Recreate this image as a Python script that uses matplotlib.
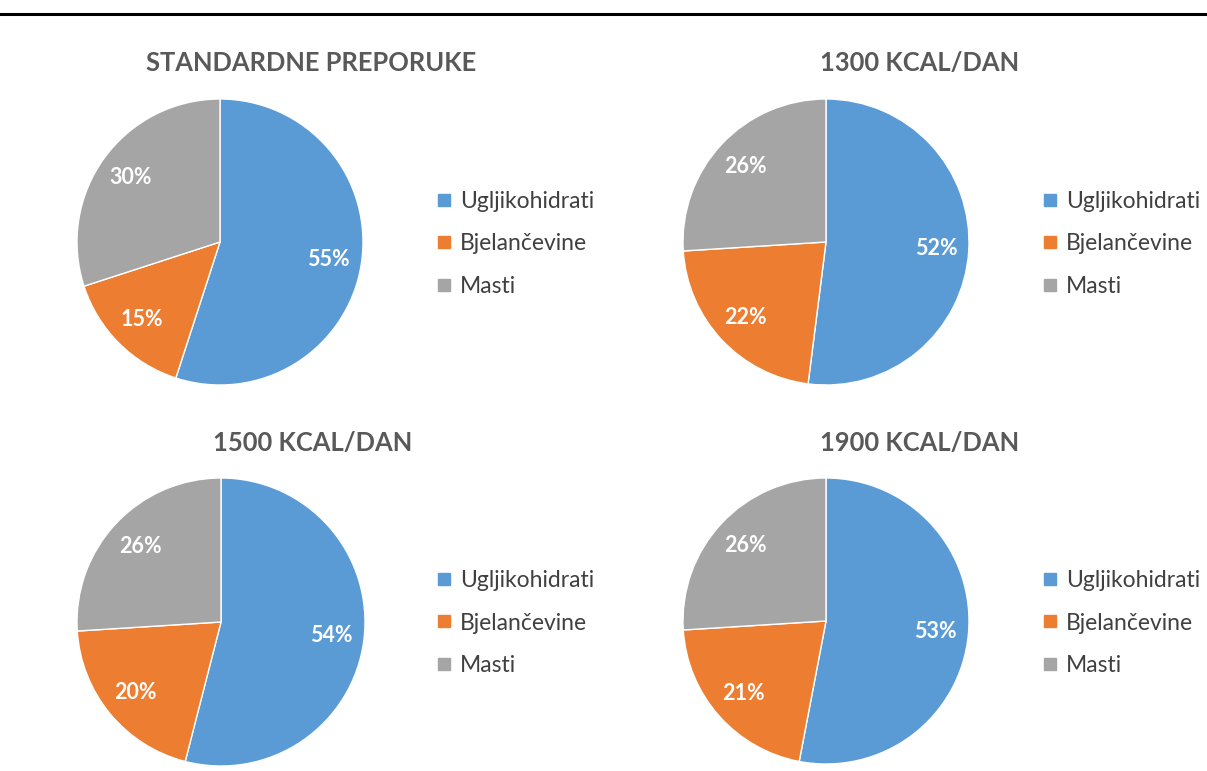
import matplotlib
matplotlib.use("Agg")
import matplotlib.pyplot as plt
from matplotlib.lines import Line2D

categories = ["Ugljikohidrati", "Bjelančevine", "Masti"]
titles = ["STANDARDNE PREPORUKE", "1300 KCAL/DAN", "1500 KCAL/DAN", "1900 KCAL/DAN"]
vals_standard = [55, 15, 30]
vals_1300 = [52, 22, 26]
vals_1500 = [54, 20, 26]
vals_1900 = [53, 21, 26]
all_vals = [vals_standard, vals_1300, vals_1500, vals_1900]
colors = ["#5B9BD5", "#ED7D31", "#A5A5A5"]

W, H = 1207, 771
plt.rcParams['font.family'] = ['Lato', 'DejaVu Sans']
fig = plt.figure(figsize=(W / 100, H / 100), dpi=100)
fig.patch.set_facecolor("white")

# top rule
fig.add_artist(Line2D([0, 1], [1 - 14 / H, 1 - 14 / H], color="black", lw=2.2, transform=fig.transFigure))

# pixel layout: (pie center x, center y, radius, title x, title y, legend x, legend y)
layout = [
    (220, 242, 143, 311, 63, 436, 244),
    (826, 242, 143, 920, 63, 1042, 244),
    (221, 622, 144, 313, 443, 436, 623),
    (826, 621, 143, 920, 443, 1042, 623),
]

for vals, title, (cx, cy, r, tx, ty, lx, ly) in zip(all_vals, titles, layout):
    ax = fig.add_axes([(cx - r) / W, (H - cy - r) / H, 2 * r / W, 2 * r / H])
    wedges, _, autotexts = ax.pie(
        vals, colors=colors, startangle=90, counterclock=False,
        autopct=lambda p: f"{p:.0f}%", pctdistance=0.77,
        wedgeprops=dict(edgecolor="white", linewidth=1.0),
        textprops=dict(color="white", fontsize=15.5, fontweight="bold"),
    )
    ax.set_xlim(-1.0, 1.0)
    ax.set_ylim(-1.0, 1.0)
    ax.set_aspect("equal")
    fig.text(tx / W, 1 - ty / H, title, ha="center", va="center",
             fontsize=18.4, fontweight="bold", color="#595959")
    handles = [Line2D([0], [0], marker="s", linestyle="none", markersize=9,
                      markerfacecolor=c, markeredgecolor=c) for c in colors]
    leg = fig.legend(handles, categories, loc="center left",
                     bbox_to_anchor=(lx / W, 1 - ly / H), frameon=False,
                     fontsize=16.5, labelspacing=0.93, handlelength=0.7,
                     handletextpad=0.35, borderpad=0, borderaxespad=0)
    for t in leg.get_texts():
        t.set_color("#404040")

fig.savefig("out.png", dpi=100, facecolor="white")
